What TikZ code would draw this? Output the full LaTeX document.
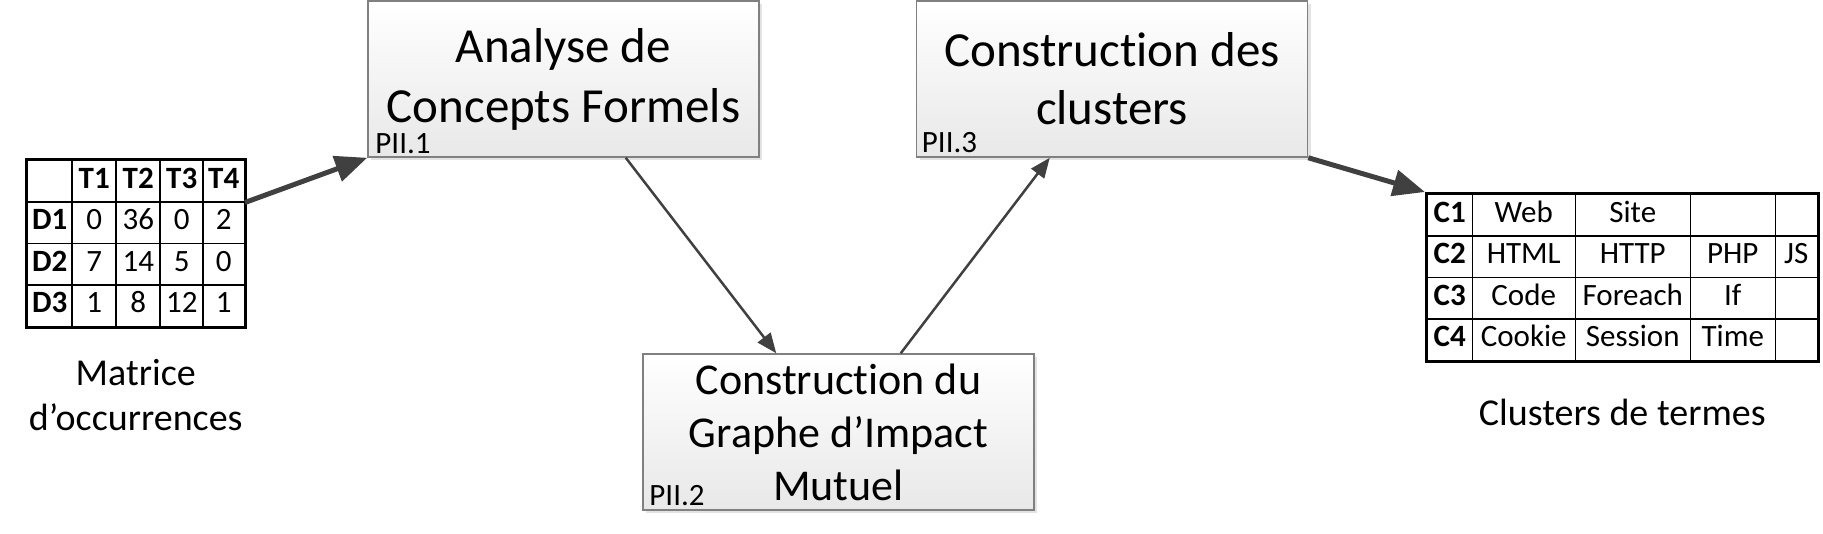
\documentclass[tikz,border=0pt]{standalone}
\usepackage{fontspec}
\setmainfont{Carlito}[Ligatures=TeX, RawFeature=-liga, RawFeature=-clig, RawFeature=-calt, RawFeature=-dlig]
\usetikzlibrary{matrix,positioning,shadows,arrows.meta}

\tikzset{
  etape/.style={draw=black!50, line width=1.5pt, top color=white, bottom color=black!9,
    minimum width=391pt, minimum height=156pt, inner sep=0pt, align=center,
    drop shadow={shadow xshift=3pt, shadow yshift=-3pt, fill=black!22}},
  repere/.style={inner sep=0pt, font=\fontsize{31}{33}\selectfont},
  cellule/.style={draw, line width=1.5pt, inner sep=0pt, anchor=center,
    minimum height=41.5pt, text height=20pt, text depth=6pt},
  legende/.style={inner sep=0pt, align=center, font=\fontsize{38}{45}\selectfont},
  fleche/.style={draw=black!75, line width=2.5pt, -{Triangle[length=20pt,width=16pt]}},
  grosse fleche/.style={draw=black!75, line width=5pt, -{Triangle[length=32pt,width=26pt]}}
}

\begin{document}
\begin{tikzpicture}[x=1pt, y=-1pt]
\useasboundingbox (0,0) rectangle (1823,533);

%draw the three steps
\node[etape, font=\fontsize{49}{60}\selectfont] (afc) at (563.5,79) {Analyse de\\Concepts Formels};
\node[etape, font=\fontsize{44}{53}\selectfont] (gim) at (838.5,432) {Construction du\\Graphe d'Impact\\Mutuel};
\node[etape, font=\fontsize{49}{58}\selectfont] (clu) at (1112,79) {Construction des\\clusters};

%step numbers
\node[repere, anchor=base west] (afc-num) at ([xshift=8pt, yshift=4pt]afc.south west) {PII.1};
\node[repere, anchor=base west] (gim-num) at ([xshift=7pt, yshift=5pt]gim.south west) {PII.2};
\node[repere, anchor=base west] (clu-num) at ([xshift=6pt, yshift=5pt]clu.south west) {PII.3};

%occurrence matrix
\matrix (occ) [matrix of nodes, nodes in empty cells, anchor=north west, draw, line width=3pt,
  inner sep=0pt, column sep=-1.5pt, row sep=-1.5pt,
  nodes={cellule, font=\fontsize{31}{33}\selectfont},
  row 1/.style={nodes={font=\fontsize{31}{33}\selectfont\bfseries}},
  column 1/.style={nodes={minimum width=45pt, font=\fontsize{31}{33}\selectfont\bfseries}},
  column 2/.style={nodes={minimum width=44pt}},
  column 3/.style={nodes={minimum width=44pt}},
  column 4/.style={nodes={minimum width=43pt}},
  column 5/.style={nodes={minimum width=41pt}}] at (25,158) {
     & T1 & T2 & T3 & T4 \\
  D1 & 0  & 36 & 0  & 2  \\
  D2 & 7  & 14 & 5  & 0  \\
  D3 & 1  & 8  & 12 & 1  \\
};
\node[legende, below=31pt of occ] (occ-leg) {Matrice\\d'occurrences};

%term clusters
\matrix (cls) [matrix of nodes, nodes in empty cells, anchor=north west, draw, line width=3pt,
  inner sep=0pt, column sep=-1.5pt, row sep=-1.5pt,
  nodes={cellule, font=\fontsize{31}{33}\selectfont},
  column 1/.style={nodes={minimum width=45pt, font=\fontsize{31}{33}\selectfont\bfseries}},
  column 2/.style={nodes={minimum width=103pt}},
  column 3/.style={nodes={minimum width=115pt}},
  column 4/.style={nodes={minimum width=85pt}},
  column 5/.style={nodes={minimum width=42pt}}] at (1425,192) {
  C1 & Web    & Site    &      &    \\
  C2 & HTML   & HTTP    & PHP  & JS \\
  C3 & Code   & Foreach & If   &    \\
  C4 & Cookie & Session & Time &    \\
};
\node[legende, below=36pt of cls] (cls-leg) {Clusters de termes};

%draw arrows
\draw[grosse fleche] (occ-1-5.south east) -- (afc.south west);
\draw[fleche] ([xshift=-134pt]afc.south east) -- ([xshift=134pt]gim.north west);
\draw[fleche] ([xshift=-134pt]gim.north east) -- ([xshift=134pt]clu.south west);
\draw[grosse fleche] (clu.south east) -- (cls.north west);
\end{tikzpicture}
\end{document}
